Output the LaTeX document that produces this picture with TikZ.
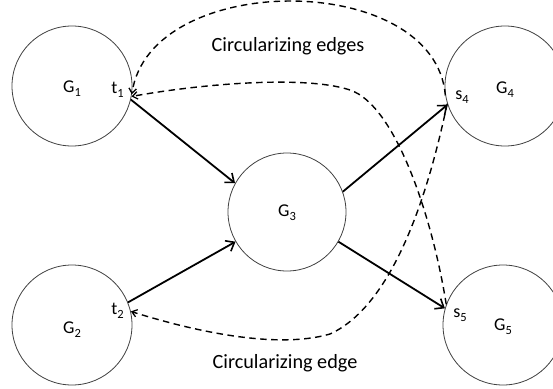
\documentclass[tikz,border=0pt]{standalone}
\usepackage{fontspec}
\setmainfont{Carlito}
\usetikzlibrary{arrows.meta}
\newcommand\lbsub[1]{\raisebox{-4pt}{\fontsize{12.5}{12.5}\selectfont #1}}
\tikzset{
  gcircle/.style={circle, draw=black!75, line width=0.8pt, minimum size=120pt, inner sep=0pt},
  lbl/.style={inner sep=0pt, font=\fontsize{18}{18}\selectfont},
  caption/.style={inner sep=0pt, font=\fontsize{20.2}{21}\selectfont},
  solidarrow/.style={line width=1.8pt, -{Straight Barb[length=7.5pt,width=12pt,line width=1.6pt]}},
  dasharrow/.style={line width=1.4pt, dash pattern=on 6.5pt off 4.5pt, -{Straight Barb[length=5pt,width=7.5pt,line width=1.3pt]}}
}
\begin{document}
\begin{tikzpicture}[x=1pt,y=-1pt]
\useasboundingbox (0,0) rectangle (553,388);
\clip (0,0) rectangle (553,388);
% circles
\node[gcircle] (G1) at (72,86) {};
\node[gcircle] (G2) at (72,325) {};
\node[gcircle, minimum size=118pt] (G3) at (287,212) {};
\node[gcircle] (G4) at (505,86) {};
\node[gcircle] (G5) at (503,325) {};
% labels
\node[lbl] (L1) at (72,89) {G\lbsub{1}};
\node[lbl] (T1) at (117.5,90) {t\lbsub{1}};
\node[lbl] (L2) at (72,330) {G\lbsub{2}};
\node[lbl] (T2) at (117.5,310.5) {t\lbsub{2}};
\node[lbl] (L3) at (287,213) {G\lbsub{3}};
\node[lbl] (L4) at (505,90) {G\lbsub{4}};
\node[lbl] (S4) at (462,97) {s\lbsub{4}};
\node[lbl] (L5) at (503,327) {G\lbsub{5}};
\node[lbl] (S5) at (460,315) {s\lbsub{5}};
\node[caption] (C1) at (288,46) {Circularizing edges};
\node[caption] (C2) at (285,363) {Circularizing edge};
% waypoints
\coordinate (wa) at (350,90);
\coordinate (wb) at (330,334);
% solid arrows
\draw[solidarrow] (G1.-13) -- (G3.151);
\draw[solidarrow] (G2.22) -- (G3.210);
\draw[solidarrow] (G3.20) -- (G4.198);
\draw[solidarrow] (G3.-30) -- (G5.164);
% dashed arrows
\draw[dasharrow] (G4.189) .. controls (435,-30) and (150,-30) .. (G1.-8);
\draw[dasharrow] (G5.160) .. controls (432,215) and (395,105) .. (wa)
   .. controls (305,75) and (200,84) .. (G1.-10);
\draw[dasharrow] (G4.197) .. controls (437,150) and (405,300) .. (wb)
   .. controls (275,350) and (190,330) .. (G2.13);
\end{tikzpicture}
\end{document}
